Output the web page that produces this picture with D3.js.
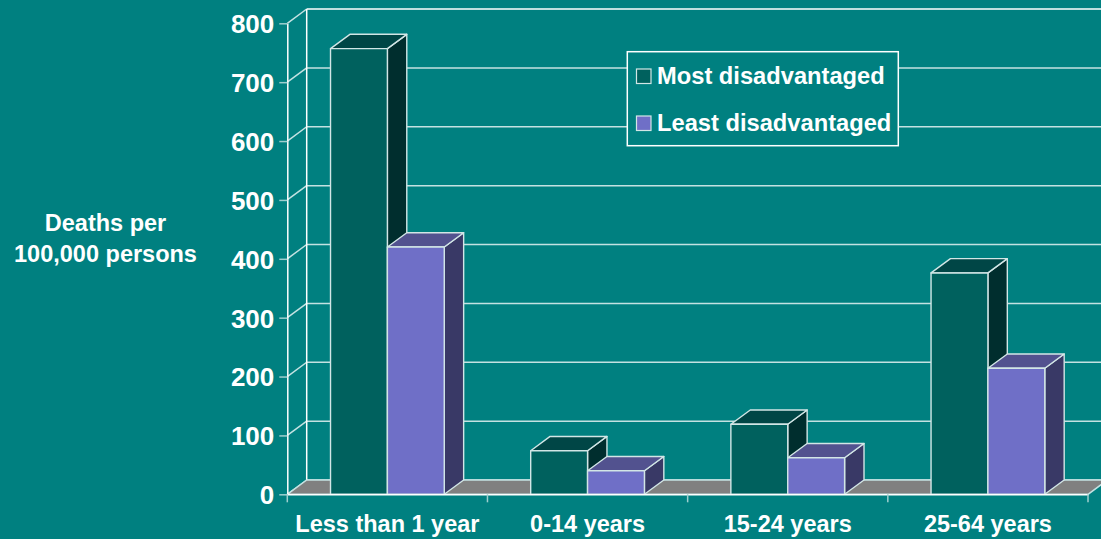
<!DOCTYPE html>
<html>
<head>
<meta charset="utf-8">
<script src="https://cdn.jsdelivr.net/npm/d3@7"></script>
<style>
  html, body { margin: 0; padding: 0; background: #008080; }
  svg { display: block; }
  text { font-family: "Liberation Sans", Arial, Helvetica, sans-serif; font-weight: bold; fill: #ffffff; }
</style>
</head>
<body>
<svg id="chart" width="1101" height="539"></svg>
<script>
// Death rates by age group and socioeconomic disadvantage
const categories = ["Less than 1 year", "0-14 years", "15-24 years", "25-64 years"];
const seriesNames = ["Most disadvantaged", "Least disadvantaged"];
const mostDisadvantaged = [757, 74, 119, 376];
const leastDisadvantaged = [420, 40, 62, 214];
const yTicks = [0, 100, 200, 300, 400, 500, 600, 700, 800];
const yTitle = ["Deaths per", "100,000 persons"];

const W = 1101, H = 539;
const plot = { left: 287.3, right: 1088, top: 23.3, bottom: 494.3 };
const depth = { dx: 19.4, dy: -14.3 };

const palette = {
  bg: "#008080",
  grid: "#c4e2e2",
  frame: "#ffffff",
  tick: "#9fcfcf",
  floor: "#808080",
  most: { front: "#00615e", top: "#004646", side: "#002e2e" },
  least: { front: "#6f6fc7", top: "#52528f", side: "#393966" },
  edge: "#d2e6e6"
};

const svg = d3.select("#chart");

const x = d3.scaleBand().domain(categories).range([plot.left, plot.right]).padding(0);
const inner = d3.scaleBand().domain(seriesNames).range([0, x.bandwidth()]).paddingInner(0).paddingOuter(0.76);
const y = d3.scaleLinear().domain([0, 800]).range([plot.bottom, plot.top]);

const { dx, dy } = depth;
const backLeft = plot.left + dx;
const backRight = plot.right + dx;

// Back wall gridlines and frame
const walls = svg.append("g");
walls.selectAll("line.grid")
  .data(yTicks)
  .join("line")
  .attr("x1", backLeft).attr("x2", backRight)
  .attr("y1", d => y(d) + dy).attr("y2", d => y(d) + dy)
  .attr("stroke", d => d === 800 ? palette.frame : palette.grid)
  .attr("stroke-width", 1.5);

// Side wall diagonals
walls.selectAll("line.diag")
  .data(yTicks)
  .join("line")
  .attr("x1", plot.left).attr("x2", backLeft)
  .attr("y1", d => y(d)).attr("y2", d => y(d) + dy)
  .attr("stroke", palette.grid)
  .attr("stroke-width", 1.5);

walls.append("line")
  .attr("x1", backLeft).attr("x2", backLeft)
  .attr("y1", y(800) + dy).attr("y2", y(0) + dy)
  .attr("stroke", palette.frame).attr("stroke-width", 1.5);

// Floor
const floorPts = [
  [plot.left, y(0)], [plot.right, y(0)],
  [backRight, y(0) + dy], [backLeft, y(0) + dy]
];
svg.append("polygon")
  .attr("points", floorPts.map(p => p.join(",")).join(" "))
  .attr("fill", palette.floor)
  .attr("stroke", palette.grid)
  .attr("stroke-width", 1.5)
  .attr("stroke-linejoin", "round");

// Legend box
const legend = svg.append("g");
legend.append("rect")
  .attr("x", 627.3).attr("y", 51.7).attr("width", 271).attr("height", 94)
  .attr("fill", palette.bg).attr("stroke", palette.frame).attr("stroke-width", 1.5);
const legendColors = [palette.most.front, palette.least.front];
seriesNames.forEach((name, i) => {
  const gy = 69 + i * 47;
  legend.append("rect")
    .attr("x", 636.5).attr("y", gy).attr("width", 14.5).attr("height", 14.5)
    .attr("fill", legendColors[i]).attr("stroke", palette.edge).attr("stroke-width", 1.2);
  legend.append("text")
    .attr("x", 657).attr("y", gy + 15)
    .attr("font-size", 23.7)
    .text(name);
});

// 3D bars
const bars = svg.append("g");
const seriesData = [
  { name: seriesNames[0], values: mostDisadvantaged, colors: palette.most },
  { name: seriesNames[1], values: leastDisadvantaged, colors: palette.least }
];
const barList = [];
categories.forEach((cat, ci) => {
  seriesData.forEach(s => {
    barList.push({ cat, series: s.name, value: s.values[ci], colors: s.colors });
  });
});

const poly = pts => pts.map(p => p.join(",")).join(" ");
barList.forEach(b => {
  const x0 = x(b.cat) + inner(b.series);
  const x1 = x0 + inner.bandwidth();
  const yt = y(b.value), yb = y(0);
  const g = bars.append("g")
    .attr("stroke", palette.edge).attr("stroke-width", 1.4).attr("stroke-linejoin", "round");
  // side face
  g.append("polygon")
    .attr("points", poly([[x1, yt], [x1 + dx, yt + dy], [x1 + dx, yb + dy], [x1, yb]]))
    .attr("fill", b.colors.side);
  // top face
  g.append("polygon")
    .attr("points", poly([[x0, yt], [x0 + dx, yt + dy], [x1 + dx, yt + dy], [x1, yt]]))
    .attr("fill", b.colors.top);
  // front face
  g.append("rect")
    .attr("x", x0).attr("y", yt).attr("width", x1 - x0).attr("height", yb - yt)
    .attr("fill", b.colors.front);
});

// Y axis
const yAxis = svg.append("g")
  .attr("transform", `translate(${plot.left},0)`)
  .call(d3.axisLeft(y).tickValues(yTicks).tickFormat(d3.format("d")).tickSize(8).tickSizeOuter(0).tickPadding(5));
yAxis.select(".domain").attr("stroke", palette.frame).attr("stroke-width", 1.5);
yAxis.selectAll(".tick line").attr("stroke", palette.tick).attr("stroke-width", 1.5);
yAxis.selectAll(".tick text")
  .attr("font-size", 26)
  .attr("font-family", "'Liberation Sans', Arial, sans-serif")
  .attr("font-weight", "bold")
  .attr("fill", "#ffffff")
  .attr("dy", "0.36em");

// X axis: line along the floor front, ticks on category boundaries, labels centred
const xAxis = svg.append("g")
  .attr("transform", `translate(0,${plot.bottom})`)
  .call(d3.axisBottom(x).tickSize(0).tickSizeOuter(0).tickPadding(21));
xAxis.select(".domain").attr("stroke", palette.frame).attr("stroke-width", 1.5);
xAxis.selectAll(".tick text")
  .attr("font-size", 23.5)
  .attr("font-family", "'Liberation Sans', Arial, sans-serif")
  .attr("font-weight", "bold")
  .attr("fill", "#ffffff");
const boundaries = categories.map(c => x(c)).concat([x(categories[categories.length - 1]) + x.bandwidth()]);
svg.append("g").selectAll("line")
  .data(boundaries)
  .join("line")
  .attr("x1", d => d).attr("x2", d => d)
  .attr("y1", plot.bottom).attr("y2", plot.bottom + 8)
  .attr("stroke", palette.tick).attr("stroke-width", 1.5);

// Y axis title
const title = svg.append("text")
  .attr("text-anchor", "middle")
  .attr("font-size", 23.5);
yTitle.forEach((line, i) => {
  title.append("tspan").attr("x", 105.5).attr("y", 231 + i * 31).text(line);
});
</script>
</body>
</html>
